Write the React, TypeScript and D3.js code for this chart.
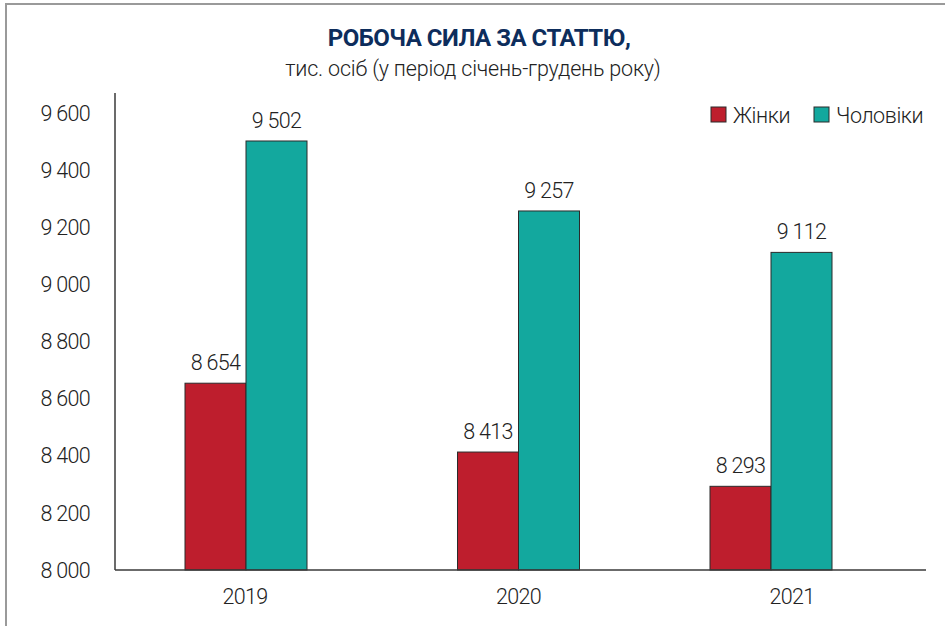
import React from "react";
import * as d3 from "d3";

const years = ["2019", "2020", "2021"];
const women = [8654, 8413, 8293];
const men = [9502, 9257, 9112];
const yTicks = [8000, 8200, 8400, 8600, 8800, 9000, 9200, 9400, 9600];
const seriesNames = ["Жінки", "Чоловіки"];
const title = "РОБОЧА СИЛА ЗА СТАТТЮ,";
const subtitle = "тис. осіб (у період січень-грудень року)";

const W = 945;
const H = 626;
const FONT = "Roboto, 'Noto Sans', sans-serif";
const RED = "#be1e2d";
const TEAL = "#13a89e";
const colors = [RED, TEAL];

const fmt = (v: number) => {
  const s = String(v);
  return s.length > 3 ? s.slice(0, s.length - 3) + " " + s.slice(-3) : s;
};

export default function App() {
  const plotLeft = 115;
  const plotRight = 926;
  const yBottom = 570;
  const yTop = 113;
  const y = d3.scaleLinear().domain([8000, 9600]).range([yBottom, yTop]);
  const x = d3.scalePoint<string>().domain(years).range([245, 792]);
  // reference places the last group of bars slightly left of its label
  const groupNudge = (i: number) => (i === years.length - 1 ? -21 : i === 0 ? 1 : 0);
  const barW = 61;
  const series = [women, men];
  const txt = { fontSize: 21.5, fontWeight: 300, fill: "#222", letterSpacing: -0.7 } as const;

  return (
    <svg
      width={W}
      height={H}
      style={{ position: "absolute", left: 0, top: 0, background: "#fff" }}
      fontFamily={FONT}
    >
      {/* frame */}
      <line x1={5} x2={W} y1={4} y2={4} stroke="#9a9a9a" strokeWidth={2} />
      <line x1={6} x2={6} y1={4} y2={H} stroke="#9a9a9a" strokeWidth={2} />

      {/* titles */}
      <text x={479} y={46} textAnchor="middle" fontSize={24} fontWeight={700} fill="#0d2d5c" letterSpacing={-0.5}>
        {title}
      </text>
      <text x={473} y={76} textAnchor="middle" fontSize={21.5} fontWeight={300} fill="#222" letterSpacing={-0.2}>
        {subtitle}
      </text>

      {/* y tick labels */}
      {yTicks.map((t) => (
        <text key={t} x={90} y={y(t)} dy="0.36em" textAnchor="end" {...txt}>
          {fmt(t)}
        </text>
      ))}

      {/* bars */}
      {years.map((yr, i) => {
        const cx = (x(yr) as number) + groupNudge(i);
        return (
          <g key={yr}>
            {series.map((vals, s) => {
              const bx = cx - barW + s * barW;
              const by = y(vals[i]);
              return (
                <g key={s}>
                  <rect
                    x={bx}
                    y={by}
                    width={barW}
                    height={yBottom - by}
                    fill={colors[s]}
                    stroke="#2b2b2b"
                    strokeWidth={1}
                  />
                  <text x={bx + barW / 2} y={by - 13} textAnchor="middle" {...txt}>
                    {fmt(vals[i])}
                  </text>
                </g>
              );
            })}
          </g>
        );
      })}

      {/* axes */}
      <line x1={plotLeft} x2={plotLeft} y1={93} y2={yBottom} stroke="#3a3a3a" strokeWidth={1.5} />
      <line x1={plotLeft} x2={plotRight} y1={yBottom} y2={yBottom} stroke="#3a3a3a" strokeWidth={1.5} />

      {/* x labels */}
      {years.map((yr) => (
        <text key={yr} x={x(yr) as number} y={604} textAnchor="middle" {...txt}>
          {yr}
        </text>
      ))}

      {/* legend */}
      {seriesNames.map((n, i) => {
        const lx = i === 0 ? 711 : 814;
        return (
          <g key={n}>
            <rect x={lx} y={107} width={15} height={15} fill={colors[i]} stroke="#2b2b2b" strokeWidth={1} />
            <text x={lx + 22} y={122.5} {...txt} letterSpacing={-0.4}>
              {n}
            </text>
          </g>
        );
      })}
    </svg>
  );
}
